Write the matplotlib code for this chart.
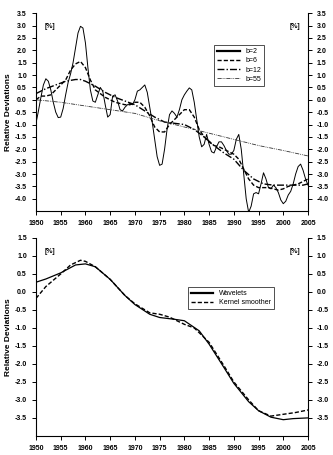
import numpy as np
import matplotlib.pyplot as plt

plt.rcParams['font.family'] = ['Liberation Sans', 'DejaVu Sans']
plt.rcParams['font.weight'] = 'bold'

# --- data: top panel (half-year steps for b=2, yearly for smoother ones) ---
years_half = np.arange(1950, 2005.01, 0.5)
b2 = [-0.95, -0.45, 0.1, 0.6, 0.85, 0.75, 0.4, -0.1, -0.5, -0.72,
      -0.7, -0.35, 0.2, 0.7, 1.05, 1.5, 2.1, 2.7, 2.97, 2.9,
      2.3, 1.3, 0.4, -0.05, -0.1, 0.2, 0.5, 0.35, -0.2, -0.7,
      -0.6, 0.15, 0.2, -0.05, -0.4, -0.45, -0.3, -0.2, -0.15, -0.2,
      0.0, 0.35, 0.4, 0.5, 0.6, 0.3, -0.3, -0.9, -1.6, -2.3,
      -2.65, -2.6, -2.0, -1.2, -0.6, -0.45, -0.55, -0.7, -0.4, 0.0,
      0.2, 0.35, 0.48, 0.4, -0.1, -0.8, -1.5, -1.9, -1.8, -1.4,
      -1.8, -2.1, -2.15, -1.9, -1.7, -1.7, -1.85, -2.05, -2.2, -2.2,
      -2.05, -1.6, -1.4, -2.0, -3.0, -4.0, -4.55, -4.3, -3.8, -3.75,
      -3.8, -3.4, -2.95, -3.2, -3.55, -3.6, -3.45, -3.55, -3.75, -4.05,
      -4.2, -4.1, -3.85, -3.7, -3.4, -3.0, -2.7, -2.6, -2.85, -3.2,
      -3.45]

years = np.arange(1950, 2006)
b6 = [0.0, 0.15, 0.15, 0.2, 0.4, 0.6, 0.8, 1.2, 1.45, 1.55,
      1.3, 0.8, 0.4, 0.25, 0.1, 0.0, -0.1, -0.15, -0.2, -0.2,
      -0.1, -0.1, -0.3, -0.65, -1.1, -1.3, -1.3, -1.0, -0.8, -0.6,
      -0.4, -0.4, -0.7, -1.2, -1.5, -1.7, -1.85, -1.9, -2.0, -2.1,
      -2.2, -2.4, -2.8, -3.2, -3.45, -3.55, -3.55, -3.55, -3.6, -3.65,
      -3.6, -3.5, -3.45, -3.4, -3.3, -3.2]

years_b12 = [1950, 1952, 1954, 1956, 1958, 1959, 1960, 1962, 1964, 1966, 1968,
             1970, 1972, 1974, 1976, 1978, 1980, 1982, 1984, 1986, 1988,
             1990, 1992, 1994, 1996, 1998, 2000, 2002, 2004, 2005]
b12 = [0.25, 0.45, 0.6, 0.75, 0.82, 0.82, 0.75, 0.55, 0.3, 0.1, -0.05,
       -0.2, -0.45, -0.7, -0.9, -0.95, -1.0, -1.2, -1.5, -1.85, -2.15,
       -2.4, -2.85, -3.2, -3.4, -3.45, -3.45, -3.45, -3.45, -3.4]

years_b55 = [1950, 1955, 1960, 1965, 1970, 1975, 1980, 1985, 1990, 1995, 2000, 2005]
b55 = [0.0, -0.1, -0.25, -0.4, -0.55, -0.85, -1.1, -1.35, -1.6, -1.85, -2.05, -2.27]

# --- data: bottom panel ---
years_w = [1950, 1952, 1955, 1958, 1960, 1962, 1965, 1968, 1970, 1973, 1975, 1978,
           1980, 1983, 1985, 1988, 1990, 1993, 1995, 1997.5, 2000, 2002, 2005]
wavelets = [0.27, 0.36, 0.53, 0.75, 0.78, 0.7, 0.35, -0.1, -0.35, -0.62, -0.71, -0.76,
            -0.8, -1.08, -1.45, -2.1, -2.54, -3.05, -3.3, -3.48, -3.55, -3.52, -3.5]
years_k = [1950, 1952, 1955, 1957, 1959, 1960, 1962, 1965, 1968, 1970, 1973, 1975, 1977,
           1980, 1982, 1985, 1988, 1990, 1993, 1995, 1997.5, 2000, 2002.5, 2005]
kernel = [-0.18, 0.15, 0.5, 0.75, 0.88, 0.85, 0.7, 0.35, -0.1, -0.33, -0.58, -0.62, -0.7,
          -0.9, -1.0, -1.4, -2.05, -2.5, -3.0, -3.3, -3.45, -3.4, -3.35, -3.28]

xticks = np.arange(1950, 2006, 5)


def style_axes(ax, ylo, yhi, yticks):
    ax.set_xlim(1950, 2005)
    ax.set_ylim(ylo, yhi)
    ax.set_xticks(xticks)
    ax.set_yticks(yticks)
    ax.set_yticklabels([f"{v:.1f}" for v in yticks])
    ax.spines['top'].set_visible(False)
    for s in ['left', 'right', 'bottom']:
        ax.spines[s].set_linewidth(0.8)
    ax.tick_params(axis='both', labelsize=5, length=3, width=0.7, direction='out')
    ax.tick_params(axis='y', right=True, labelright=True)
    for lab in ax.get_xticklabels() + ax.get_yticklabels():
        lab.set_fontweight('bold')
    ax.set_ylabel("Relative Deviations", fontsize=6, fontweight='bold', labelpad=2)
    ax.text(0.03, 0.95, "[%]", transform=ax.transAxes, fontsize=5, fontweight='bold', va='top')
    ax.text(0.97, 0.95, "[%]", transform=ax.transAxes, fontsize=5, fontweight='bold',
            va='top', ha='right')


fig = plt.figure(figsize=(3.33, 4.55), dpi=100)

ax1 = fig.add_axes([0.108, 0.536, 0.817, 0.435])
ax1.plot(years_half, b2, color='black', lw=0.7, label='b=2')
ax1.plot(years, b6, color='black', lw=1.0, ls=(0, (3, 1.5)), label='b=6')
ax1.plot(years_b12, b12, color='black', lw=1.0, ls=(0, (5, 1.5, 1, 1.5)), label='b=12')
ax1.plot(years_b55, b55, color='#333333', lw=0.6, ls=(0, (5, 1.2, 1, 1.2, 1, 1.2)), label='b=55')
style_axes(ax1, -4.5, 3.5, np.arange(-4.0, 3.51, 0.5))
leg1 = ax1.legend(loc='upper left', bbox_to_anchor=(0.654, 0.84), fontsize=5, frameon=True,
                  fancybox=False, edgecolor='black', handlelength=3.2, borderpad=0.5,
                  labelspacing=0.3, borderaxespad=0)
leg1.get_frame().set_linewidth(0.6)
leg1.get_lines()[0].set_linewidth(1.6)
for t in leg1.get_texts():
    t.set_fontweight('normal')

ax2 = fig.add_axes([0.108, 0.042, 0.817, 0.435])
ax2.plot(years_w, wavelets, color='black', lw=0.9, label='Wavelets')
ax2.plot(years_k, kernel, color='black', lw=1.0, ls=(0, (3, 1.5)), label='Kernel smoother')
style_axes(ax2, -4.0, 1.5, np.arange(-3.5, 1.51, 0.5))
leg2 = ax2.legend(loc='upper left', bbox_to_anchor=(0.56, 0.75), fontsize=5, frameon=True,
                  fancybox=False, edgecolor='black', handlelength=3.2, borderpad=0.4,
                  labelspacing=0.3, borderaxespad=0)
leg2.get_frame().set_linewidth(0.6)
leg2.get_lines()[0].set_linewidth(1.6)
for t in leg2.get_texts():
    t.set_fontweight('normal')

fig.savefig("out.png", dpi=100)
